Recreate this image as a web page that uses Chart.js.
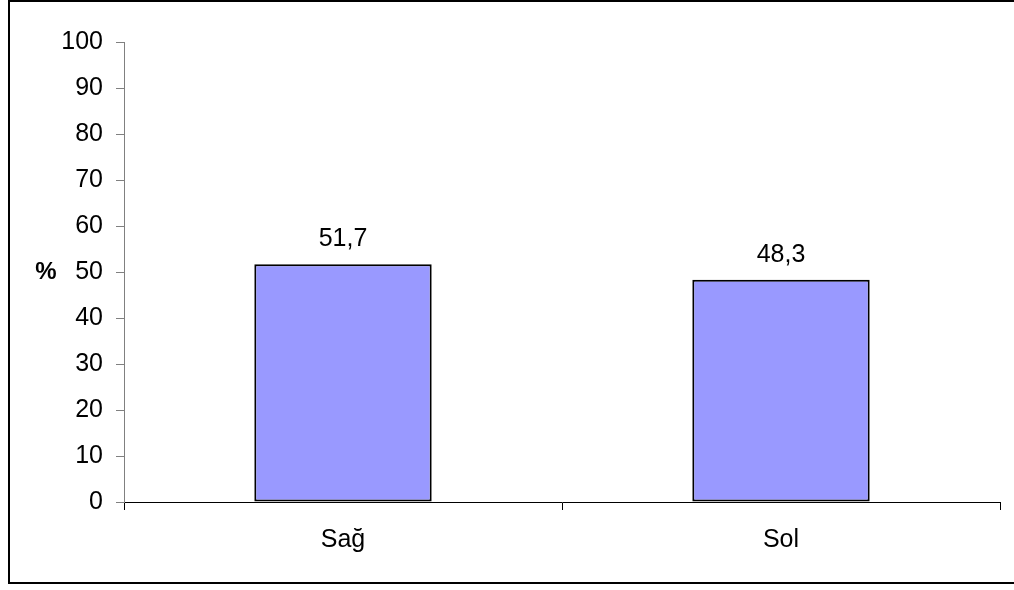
<!DOCTYPE html>
<html>
<head>
<meta charset="utf-8">
<script src="https://cdn.jsdelivr.net/npm/chart.js@4.4.0/dist/chart.umd.min.js"></script>
<style>
  html, body { margin: 0; padding: 0; background: #fff; }
  #wrap { width: 1014px; height: 590px; }
</style>
</head>
<body>
<div id="wrap"><canvas id="chart" width="1014" height="590"></canvas></div>
<script>
var categories = ['Sağ', 'Sol'];
var values = [51.7, 48.3];
var yTicks = [0, 10, 20, 30, 40, 50, 60, 70, 80, 90, 100];

var fontFamily = '"Liberation Sans", Arial, sans-serif';

// outer frame, "%" label and value labels above the bars
var extras = {
  id: 'extras',
  afterDraw: function (chart) {
    var ctx = chart.ctx;
    var y = chart.scales.y;
    ctx.save();
    ctx.strokeStyle = '#000';
    ctx.lineWidth = 2;
    ctx.strokeRect(9, 1, 1010, 582);

    ctx.fillStyle = '#000';
    ctx.font = 'bold 24px ' + fontFamily;
    ctx.textAlign = 'center';
    ctx.textBaseline = 'middle';
    ctx.fillText('%', 46, y.getPixelForValue(50));

    ctx.font = '25px ' + fontFamily;
    ctx.textBaseline = 'alphabetic';
    var meta = chart.getDatasetMeta(0);
    meta.data.forEach(function (bar, i) {
      ctx.fillText(values[i].toFixed(1).replace('.', ','), bar.x, bar.y - 18);
    });
    ctx.restore();
  }
};

var ctx = document.getElementById('chart');
new Chart(ctx, {
  type: 'bar',
  data: {
    labels: categories,
    datasets: [{
      data: values,
      backgroundColor: '#9999FF',
      borderColor: '#000',
      borderWidth: 2,
      borderSkipped: false,
      barPercentage: 0.405,
      categoryPercentage: 1
    }]
  },
  options: {
    responsive: false,
    animation: false,
    layout: { padding: { top: 42, right: 14, left: 0, bottom: 0 } },
    plugins: { legend: { display: false }, tooltip: { enabled: false } },
    scales: {
      x: {
        afterFit: function (s) { s.height = 88; },
        grid: { drawOnChartArea: false, drawTicks: true, tickLength: 8, color: '#000', offset: true },
        border: { color: '#000', width: 1 },
        ticks: { color: '#000', font: { family: fontFamily, size: 25 }, padding: 15 }
      },
      y: {
        min: 0,
        max: 100,
        afterFit: function (s) { s.width = 124; },
        afterBuildTicks: function (s) { s.ticks = yTicks.map(function (v) { return { value: v }; }); },
        grid: { drawOnChartArea: false, drawTicks: true, tickLength: 8, color: '#808080' },
        border: { color: '#808080', width: 1 },
        ticks: { color: '#000', font: { family: fontFamily, size: 25 }, padding: 13 }
      }
    }
  },
  plugins: [extras]
});
</script>
</body>
</html>
